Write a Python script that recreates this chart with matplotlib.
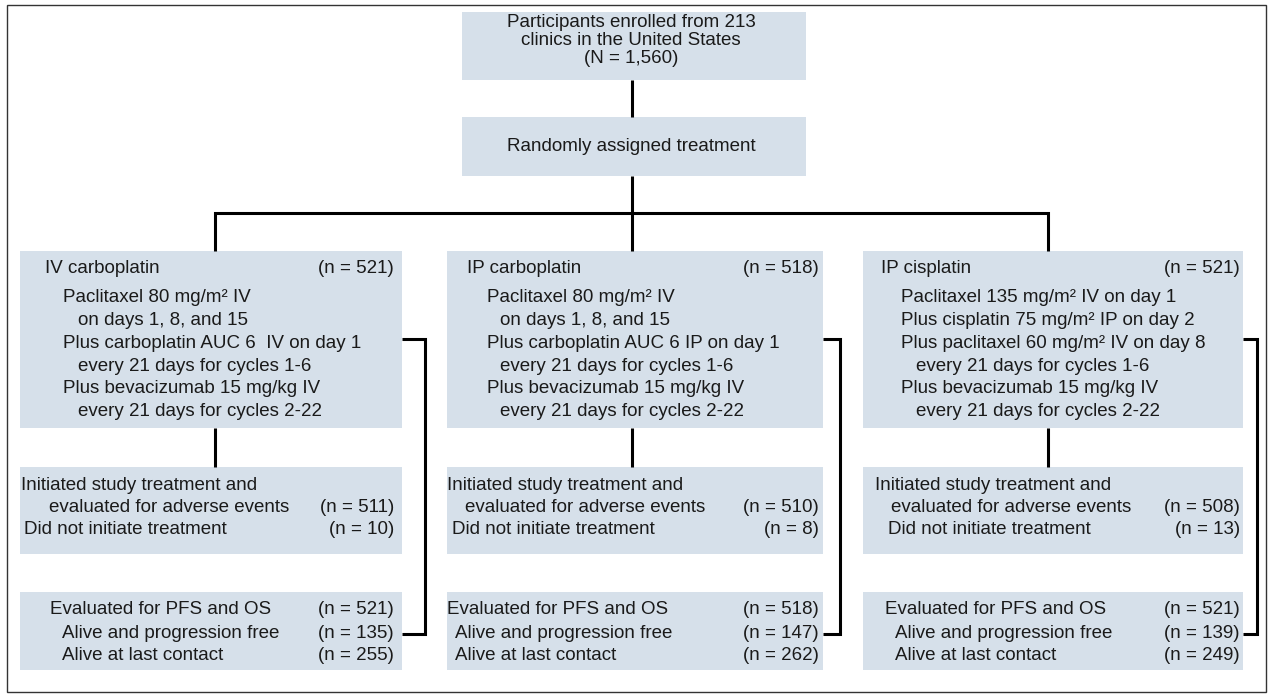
import matplotlib.pyplot as plt
from matplotlib.patches import Rectangle

plt.rcParams['font.family'] = ['Liberation Sans', 'DejaVu Sans']

# Flow chart content
enrolled_lines = ['Participants enrolled from 213', 'clinics in the United States', '(N = 1,560)']
randomized_text = 'Randomly assigned treatment'

arm_names = ['IV carboplatin', 'IP carboplatin', 'IP cisplatin']
arm_n = [521, 518, 521]

# (indent level, text)
regimens = [
    [(1, 'Paclitaxel 80 mg/m² IV'), (2, 'on days 1, 8, and 15'),
     (1, 'Plus carboplatin AUC 6  IV on day 1'), (2, 'every 21 days for cycles 1-6'),
     (1, 'Plus bevacizumab 15 mg/kg IV'), (2, 'every 21 days for cycles 2-22')],
    [(1, 'Paclitaxel 80 mg/m² IV'), (2, 'on days 1, 8, and 15'),
     (1, 'Plus carboplatin AUC 6 IP on day 1'), (2, 'every 21 days for cycles 1-6'),
     (1, 'Plus bevacizumab 15 mg/kg IV'), (2, 'every 21 days for cycles 2-22')],
    [(1, 'Paclitaxel 135 mg/m² IV on day 1'), (1, 'Plus cisplatin 75 mg/m² IP on day 2'),
     (1, 'Plus paclitaxel 60 mg/m² IV on day 8'), (2, 'every 21 days for cycles 1-6'),
     (1, 'Plus bevacizumab 15 mg/kg IV'), (2, 'every 21 days for cycles 2-22')],
]

initiated_n = [511, 510, 508]
not_initiated_n = [10, 8, 13]
evaluated_n = [521, 518, 521]
pfs_free_n = [135, 147, 139]
alive_n = [255, 262, 249]

# layout (pixels, y downward)
box_left = [20, 447, 863]
box_right = [402, 823, 1243]
drop_x = [215, 632, 1048]
link_x = [425, 840, 1257]
n_right = [394, 819, 1240]
head_off = [25, 20, 18]
lvl1_off = [43, 40, 38]
lvl2_off = [58, 53, 53]
init_off = [1, 0, 12]
eval_adv_off = [29, 18, 28]
not_init_off = [4, 5, 25]
eval_off = [30, 0, 22]
alive_off = [42, 8, 32]

fill = '#d6e0ea'
ink = '#1a1a1a'
fs = 13.5
lw = 2.2

fig = plt.figure(figsize=(12.7, 6.94), dpi=100)
ax = fig.add_axes([0, 0, 1, 1])
ax.set_xlim(0, 1270)
ax.set_ylim(694, 0)
ax.axis('off')


def box(x0, y0, x1, y1):
    ax.add_patch(Rectangle((x0, y0), x1 - x0, y1 - y0, facecolor=fill, edgecolor='none', zorder=1))


def line(xs, ys):
    ax.plot(xs, ys, color='black', lw=lw, solid_joinstyle='miter', solid_capstyle='butt', zorder=2)


def txt(x, y, s, ha='left'):
    ax.text(x, y, s, ha=ha, va='center', fontsize=fs, color=ink, zorder=3)


# outer frame
ax.add_patch(Rectangle((7, 5), 1259, 687, fill=False, edgecolor='#333333', lw=1.0))

# top boxes
box(462, 12, 806, 80)
for i, s in enumerate(enrolled_lines):
    txt(631, 22 + i * 18, s, ha='center')
box(462, 117, 806, 176)
txt(631, 146, randomized_text, ha='center')

line([632, 632], [80, 117])
line([632, 632], [176, 213])
line([drop_x[0], drop_x[0], drop_x[2], drop_x[2]], [251, 213, 213, 251])
line([632, 632], [213, 251])

reg_y = [297, 320, 343, 366, 388, 411]

for k in range(3):
    L, R = box_left[k], box_right[k]
    # arm box
    box(L, 251, R, 428)
    txt(L + head_off[k], 268, arm_names[k])
    txt(n_right[k], 268, f'(n = {arm_n[k]})', ha='right')
    for (lvl, s), y in zip(regimens[k], reg_y):
        off = lvl1_off[k] if lvl == 1 else lvl2_off[k]
        txt(L + off, y, s)

    # initiated box
    line([drop_x[k], drop_x[k]], [428, 467])
    box(L, 467, R, 554)
    txt(L + init_off[k], 485, 'Initiated study treatment and')
    txt(L + eval_adv_off[k], 507, 'evaluated for adverse events')
    txt(n_right[k], 507, f'(n = {initiated_n[k]})', ha='right')
    txt(L + not_init_off[k], 530, 'Did not initiate treatment')
    txt(n_right[k], 530, f'(n = {not_initiated_n[k]})', ha='right')

    # evaluated box
    box(L, 592, R, 670)
    txt(L + eval_off[k], 609, 'Evaluated for PFS and OS')
    txt(n_right[k], 609, f'(n = {evaluated_n[k]})', ha='right')
    txt(L + alive_off[k], 634, 'Alive and progression free')
    txt(n_right[k], 634, f'(n = {pfs_free_n[k]})', ha='right')
    txt(L + alive_off[k], 655, 'Alive at last contact')
    txt(n_right[k], 655, f'(n = {alive_n[k]})', ha='right')

    # bypass connector
    line([R, link_x[k], link_x[k], R], [339, 339, 634, 634])

fig.savefig('out.png', dpi=100)
